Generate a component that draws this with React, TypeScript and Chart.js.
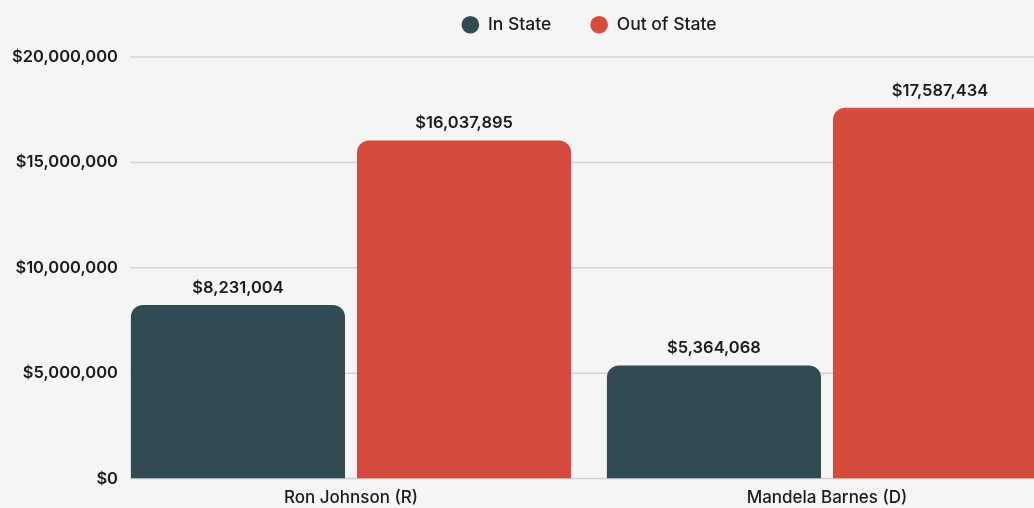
import React, { useEffect, useRef } from "react";
import { Chart, registerables } from "chart.js";

Chart.register(...registerables);

const categories = ["Ron Johnson (R)", "Mandela Barnes (D)"];
const seriesNames = ["In State", "Out of State"];
const inState = [8231004, 5364068];
const outOfState = [16037895, 17587434];
const yTicks = [0, 5000000, 10000000, 15000000, 20000000];

const DARK = "#324b53";
const RED = "#d54c3e";
const TEXT = "#1b1b1b";
const BG = "#f5f5f5";
const FONT = "Inter";
const YFONT = `600 16.5px ${FONT}`;

const fmt = (v: number) => "$" + v.toLocaleString("en-US");

const gridPlugin = {
  id: "customGrid",
  beforeDatasetsDraw(chart: any) {
    const { ctx, chartArea, scales } = chart;
    const y = scales.y;
    ctx.save();
    ctx.strokeStyle = "#d3d3d3";
    ctx.lineWidth = 1.5;
    yTicks.forEach((t) => {
      const py = y.getPixelForValue(t);
      ctx.beginPath();
      ctx.moveTo(chartArea.left + 17, py);
      ctx.lineTo(chartArea.right, py);
      ctx.stroke();
    });
    ctx.restore();
  },
};

const labelPlugin = {
  id: "valueLabels",
  afterDatasetsDraw(chart: any) {
    const { ctx } = chart;
    ctx.save();
    ctx.fillStyle = TEXT;
    ctx.font = `600 16.5px ${FONT}`;
    ctx.textAlign = "center";
    ctx.textBaseline = "middle";
    chart.data.datasets.forEach((ds: any, i: number) => {
      const meta = chart.getDatasetMeta(i);
      meta.data.forEach((el: any, j: number) => {
        ctx.fillText(fmt(ds.data[j]), el.x, el.y - 17);
      });
    });
    ctx.restore();
  },
};

function widestYLabel(): number {
  const c = document.createElement("canvas").getContext("2d");
  if (!c) return 108;
  c.font = YFONT;
  return Math.max(...yTicks.map((t) => c.measureText(fmt(t)).width));
}

export default function App() {
  const ref = useRef<HTMLCanvasElement>(null);
  useEffect(() => {
    if (!ref.current) return;
    const widest = widestYLabel();
    const chart = new Chart(ref.current, {
      type: "bar",
      data: {
        labels: categories,
        datasets: [
          {
            label: seriesNames[0],
            data: inState,
            backgroundColor: DARK,
            borderRadius: 12,
            borderSkipped: "start",
            categoryPercentage: 0.95,
            barPercentage: 0.947,
          },
          {
            label: seriesNames[1],
            data: outOfState,
            backgroundColor: RED,
            borderRadius: 12,
            borderSkipped: "start",
            categoryPercentage: 0.95,
            barPercentage: 0.947,
          },
        ],
      },
      options: {
        animation: false,
        responsive: false,
        devicePixelRatio: 1,
        layout: { padding: { top: -23, bottom: -9, left: 0, right: 0 } },
        plugins: {
          legend: {
            display: true,
            position: "top",
            fullSize: false,
            labels: {
              usePointStyle: true,
              pointStyle: "circle",
              pointStyleWidth: 17.7,
              boxWidth: 17.7,
              boxHeight: 12.5,
              padding: 39,
              color: TEXT,
              font: { family: FONT, size: 17.5, weight: "500" },
            },
          },
          title: {
            display: true,
            text: " ",
            weight: 500,
            padding: 0,
            font: { size: 13.5, lineHeight: 1 },
          } as any,
          tooltip: { enabled: false },
        },
        scales: {
          x: {
            grid: { display: false, drawTicks: false },
            border: { display: false },
            ticks: {
              padding: 9,
              color: TEXT,
              font: { family: FONT, size: 17, weight: "500" },
            },
          },
          y: {
            min: 0,
            max: 20000000,
            afterFit: (scale: any) => {
              scale.width = 113;
            },
            afterBuildTicks: (scale: any) => {
              scale.ticks = yTicks.map((v) => ({ value: v }));
            },
            grid: { display: false, drawTicks: false },
            border: { display: false },
            ticks: {
              mirror: true,
              crossAlign: "far",
              padding: 5 - widest,
              color: TEXT,
              font: { family: FONT, size: 16.5, weight: "600" },
              callback: (v: any) => fmt(Number(v)),
            },
          },
        },
      },
      plugins: [gridPlugin, labelPlugin],
    });
    return () => chart.destroy();
  }, []);

  return (
    <div
      style={{
        position: "fixed",
        left: 0,
        top: 0,
        width: 1034,
        height: 508,
        overflow: "hidden",
        background: BG,
      }}
    >
      <canvas ref={ref} width={1065} height={508} style={{ display: "block" }} />
    </div>
  );
}
